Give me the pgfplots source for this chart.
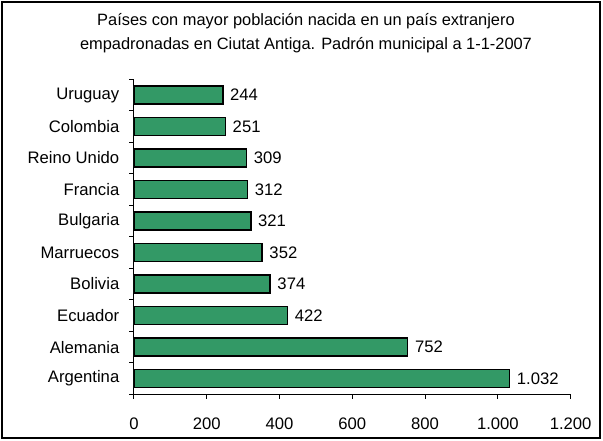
\documentclass[border=0pt]{standalone}
\usepackage{fontspec}
\setmainfont{Liberation Sans}
\usepackage{pgfplots}
\pgfplotsset{compat=1.18}
\definecolor{barverde}{RGB}{51,153,102}

\begin{document}
\begin{tikzpicture}
  \begin{axis}[
    xbar,
    scale only axis,
    width=327.5pt,
    height=236.25pt,
    xmin=0, xmax=1200,
    ymin=-0.5, ymax=9.5,
    axis x line*=bottom,
    axis y line*=left,
    axis line style={black, line width=0.75pt, -},
    tick style={black, line width=0.75pt},
    tick align=outside,
    major tick length=3.5pt,
    xtick={0,200,...,1200},
    ytick={-0.5,0.5,...,9.5},
    yticklabels={Argentina,Alemania,Ecuador,Bolivia,Marruecos,Bulgaria,Francia,Reino Unido,Colombia,Uruguay},
    y tick label as interval,
    tick label style={font=\fontsize{12.5}{14}\selectfont},
    xticklabel style={yshift=-10.5pt},
    yticklabel style={xshift=-4pt},
    /pgf/number format/.cd, 1000 sep={.}, assume math mode=true,
    /pgfplots/.cd,
    bar width=13.5pt,
    nodes near coords,
    nodes near coords align=horizontal,
    every node near coord/.append style={font=\fontsize{12.5}{14}\selectfont, anchor=west, inner sep=1pt, xshift=4pt, black},
  ]
    \addplot[fill=barverde, draw=black, line width=1.1pt] coordinates {
      (1032,0)
      (752,1)
      (422,2)
      (374,3)
      (352,4)
      (321,5)
      (312,6)
      (309,7)
      (251,8)
      (244,9)
    };
  \end{axis}
  % frame and title, in pixels of the reference measured from the axis corner
  \begin{scope}[shift={(current axis.south west)}, x=0.75pt, y=0.75pt]
    \draw[black, line width=1.1pt] (-132,-43.7) rectangle (466,392.3);
    \node[anchor=base, font=\fontsize{12.3}{14}\selectfont] at (172,368.6) {Países con mayor población nacida en un país extranjero};
    \node[anchor=base, font=\fontsize{12.3}{14}\selectfont] at (172,344.3) {empadronadas en Ciutat Antiga. Padrón municipal a 1-1-2007};
    \pgfresetboundingbox
    \path[use as bounding box] (-134,-46.7) rectangle (469,394.3);
  \end{scope}
\end{tikzpicture}
\end{document}
